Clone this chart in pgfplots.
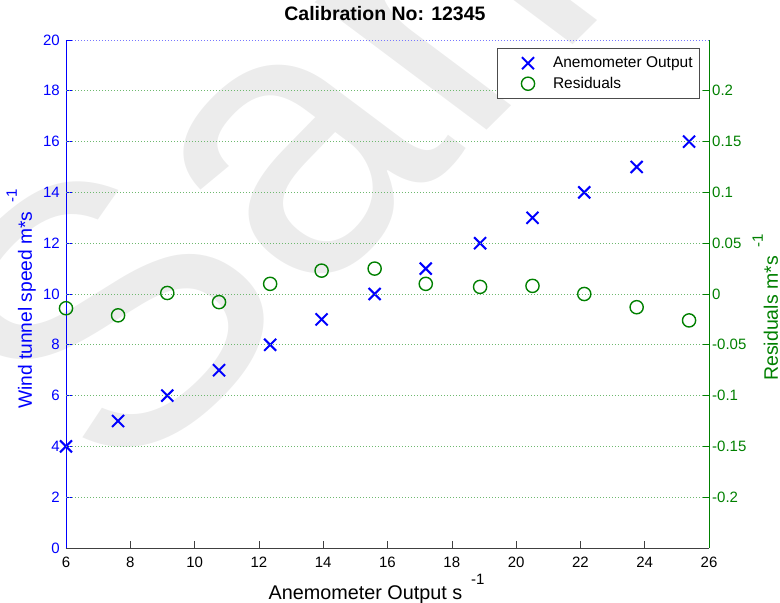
\documentclass[border=0pt]{standalone}
\usepackage{fontspec}
\setmainfont{Liberation Sans}
\usepackage{pgfplots}
\usepackage{pgfplotstable}
\pgfplotsset{compat=1.18}
\definecolor{mblue}{RGB}{0,0,255}
\definecolor{mgreen}{RGB}{0,128,0}
\definecolor{gridgreen}{RGB}{110,185,110}
\definecolor{gridblue}{RGB}{120,120,255}
\definecolor{wm}{RGB}{236,236,236}

\pgfplotstableread{
x anem res
6.00 4 -0.014
7.62 5 -0.021
9.15 6 0.001
10.76 7 -0.008
12.35 8 0.010
13.95 9 0.023
15.60 10 0.025
17.19 11 0.010
18.88 12 0.007
20.51 13 0.008
22.12 14 0.000
23.75 15 -0.013
25.38 16 -0.026
}\datatable

\begin{document}
\begin{tikzpicture}[x=1pt,y=1pt]
\useasboundingbox (0,0) rectangle (780,603);
\begin{scope}[shift={(123,112)}, xscale=1.16]
\node[rotate=49, anchor=base west, transform shape, text=wm, inner sep=0pt, font=\fontsize{370}{370}\selectfont] at (0,0) {Sample};
\end{scope}
\begin{axis}[
  scale only axis, width=643pt, height=508pt,
  at={(66pt,55pt)}, anchor=south west,
  xmin=6, xmax=26, ymin=0, ymax=20,
  axis x line=bottom, axis y line=left,
  axis line style={-},
  x axis line style={black!75, line width=0.8pt},
  y axis line style={mblue, line width=0.6pt},
  tick align=inside, major tick length=6.5pt,
  xtick={6,8,...,26},
  xticklabels={6,8,10,12,14,16,18,20,22,24,26},
  ytick={0,2,...,20},
  yticklabels={0,2,4,6,8,10,12,14,16,18,20},
  x tick style={black!75, line width=0.6pt},
  y tick style={mblue, line width=0.6pt},
  xticklabel style={font=\fontsize{15}{15}\selectfont, text=black, inner sep=0pt, yshift=-9pt},
  yticklabel style={font=\fontsize{15}{15}\selectfont, text=mblue, inner sep=0pt, xshift=-6pt},
  ymajorgrids,
  major grid style={gridblue, dash pattern=on 0.8pt off 2.2pt, line width=0.7pt},
  clip=false,
  title={Calibration No: 12345},
  title style={at={(axis description cs:0.496,1.0256)}, anchor=base, font=\bfseries\fontsize{19.5}{19.5}\selectfont, inner sep=0pt},
  xlabel={Anemometer Output s\hspace{9pt}\raisebox{15pt}{\fontsize{15}{15}\selectfont -1}},
  xlabel style={at={(axis description cs:0.483,-0.1004)}, anchor=base, inner sep=0pt, font=\fontsize{19.8}{19.8}\selectfont},
  ylabel={Wind tunnel speed m*s\hspace{9pt}\raisebox{15pt}{\fontsize{15}{15}\selectfont -1}},
  ylabel style={at={(axis description cs:-0.0529,0.49)}, anchor=base, inner sep=0pt, text=mblue, font=\fontsize{19.2}{19.2}\selectfont},
]
\addplot[only marks, mark=x, mark size=8.5pt, mblue, line width=2pt] table[x=x, y=anem] {\datatable};
\end{axis}
\begin{axis}[
  scale only axis, width=643pt, height=508pt,
  at={(66pt,55pt)}, anchor=south west,
  xmin=6, xmax=26, ymin=-0.25, ymax=0.25,
  axis x line=none, axis y line=right,
  axis line style={-},
  y axis line style={mgreen, line width=0.6pt},
  tick align=inside, major tick length=6.5pt,
  xtick=\empty,
  ytick={-0.2,-0.15,-0.1,-0.05,0,0.05,0.1,0.15,0.2},
  yticklabels={-0.2,-0.15,-0.1,-0.05,0,0.05,0.1,0.15,0.2},
  y tick style={mgreen, line width=0.6pt},
  yticklabel style={font=\fontsize{15}{15}\selectfont, text=mgreen, inner sep=0pt, xshift=3pt},
  ymajorgrids,
  major grid style={gridgreen, dash pattern=on 0.8pt off 2.2pt, line width=0.7pt},
  clip=false,
  ylabel={Residuals m*s\hspace{9pt}\raisebox{15pt}{\fontsize{15}{15}\selectfont -1}},
  ylabel style={at={(axis description cs:1.1073,0.474)}, anchor=base, inner sep=0pt, text=mgreen, font=\fontsize{19.5}{19.5}\selectfont},
  legend style={at={(axis description cs:0.986,0.984)}, anchor=north east, draw=black!70, line width=0.8pt, fill=white, font=\fontsize{15.5}{18}\selectfont, inner xsep=5pt, inner ysep=6.5pt, row sep=4pt},
  legend cell align=left,
  legend image code/.code={\path (0pt,0pt) (47pt,0pt); \draw[#1] plot[only marks] coordinates {(25pt,0pt)};},
]
\addlegendimage{only marks, mark=x, mark size=8.5pt, mblue, line width=2pt}
\addlegendentry{Anemometer Output}
\addplot[only marks, mark=o, mark size=6.6pt, mgreen, line width=1.4pt] table[x=x, y=res] {\datatable};
\addlegendentry{Residuals}
\end{axis}
\end{tikzpicture}
\end{document}
